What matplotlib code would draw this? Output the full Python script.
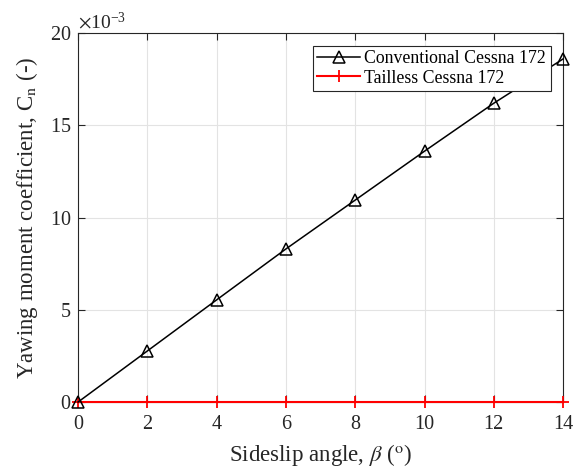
import numpy as np
import matplotlib
matplotlib.use('Agg')
import matplotlib.pyplot as plt
from matplotlib.ticker import ScalarFormatter

plt.rcParams['font.family'] = ['Liberation Serif', 'DejaVu Serif']
plt.rcParams['mathtext.fontset'] = 'stix'

# sideslip angle (deg) and yawing moment coefficient
beta = [0, 2, 4, 6, 8, 10, 12, 14]
cn_conventional = [0.0, 2.77e-3, 5.54e-3, 8.3e-3, 10.95e-3, 13.6e-3, 16.2e-3, 18.6e-3]
cn_tailless = [0, 0, 0, 0, 0, 0, 0, 0]
labels = ['Conventional Cessna 172', 'Tailless Cessna 172']

fig = plt.figure(figsize=(5.74, 4.73), dpi=100)
ax = fig.add_axes([0.136, 0.150, 0.845, 0.780])

ax.plot(beta, cn_conventional, color='black', marker='^', markerfacecolor='none',
        markersize=8, markeredgewidth=1.1, linewidth=1.1, label=labels[0],
        clip_on=False, zorder=4)
ax.plot(beta, cn_tailless, color='red', marker='+', markersize=9,
        markeredgewidth=1.3, linewidth=1.5, label=labels[1],
        clip_on=False, zorder=3)

ax.set_xlim(0, 14)
ax.set_ylim(0, 0.02)
ax.set_xticks(np.arange(0, 15, 2))
ax.set_yticks(np.arange(0, 0.0201, 0.005))

fmt = ScalarFormatter(useMathText=True)
fmt.set_powerlimits((-3, -3))
ax.yaxis.set_major_formatter(fmt)
ax.yaxis.get_offset_text().set_fontsize(14)
ax.yaxis.get_offset_text().set_color('#262626')

ax.grid(True, color='#e3e3e3', linewidth=0.8)
ax.set_axisbelow(True)
ax.tick_params(direction='in', top=True, right=True, labelsize=14.5, length=5,
               colors='#262626')
ax.tick_params(axis='x', pad=9)
ax.tick_params(axis='y', pad=5)
for s in ax.spines.values():
    s.set_color('#262626')
    s.set_linewidth(0.8)

ax.set_xlabel(r'Sideslip angle, $\beta$ ($^{\mathrm{o}}$)', fontsize=16.5,
              color='#262626', labelpad=6)
ax.set_ylabel(r'Yawing moment coefficient, C$_{\mathrm{n}}$ (-)', fontsize=16.5,
              color='#262626', labelpad=7)

leg = ax.legend(loc='upper right', fontsize=12.8, fancybox=False, framealpha=1,
                edgecolor='#262626', borderpad=0.25, handlelength=2.4,
                handletextpad=0.25, labelspacing=0.15, borderaxespad=0.7)
leg.get_frame().set_linewidth(0.8)
leg.set_zorder(5)

fig.savefig('out.png', dpi=100)
